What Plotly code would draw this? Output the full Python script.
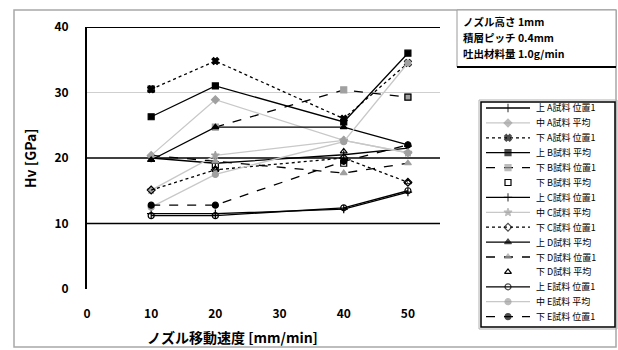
import plotly.graph_objects as go

# ノズル移動速度 [mm/min]
speed = [10, 20, 40, 50]
x_ticks = [0, 10, 20, 30, 40, 50]
y_ticks = [0, 10, 20, 30, 40]

series_names = [
    "上 A試料 位置1", "中 A試料 平均", "下 A試料 位置1",
    "上 B試料 平均", "下 B試料 位置1", "下 B試料 平均",
    "上 C試料 位置1", "中 C試料 平均", "下 C試料 位置1",
    "上 D試料 平均", "下 D試料 位置1", "下 D試料 平均",
    "上 E試料 位置1", "中 E試料 平均", "下 E試料 位置1",
]

hv_values = [
    [20.0, 19.2, 20.5, 21.5],
    [20.4, 28.9, 22.7, 20.8],
    [30.5, 34.8, 26.0, 34.5],
    [26.3, 31.0, 25.5, 36.0],
    [None, 24.7, 30.4, 29.3],
    [30.5, 19.0, 19.2, 29.3],
    [11.5, 11.5, 12.2, 14.8],
    [15.1, 20.4, 22.7, 20.8],
    [15.1, 18.2, 20.0, 16.3],
    [19.7, 24.7, 24.7, 22.0],
    [20.4, 19.5, 17.7, 19.2],
    [19.7, 18.2, 21.0, 16.3],
    [11.2, 11.2, 12.4, 15.0],
    [12.5, 17.5, 22.5, 34.5],
    [12.8, 12.8, 19.5, 22.0],
]

# line dash, line colour, marker symbol, marker colour, line drawn
styles = [
    ("solid", "#000000", "line-ns-open", "#000000", True),
    ("solid", "#c8c8c8", "diamond", "#a0a0a0", True),
    ("dot", "#000000", "x", "#000000", True),
    ("solid", "#000000", "square", "#000000", True),
    ("dash", "#000000", "square", "#a0a0a0", True),
    ("solid", "#000000", "square-open", "#000000", False),
    ("solid", "#000000", "cross-thin-open", "#000000", True),
    ("solid", "#c8c8c8", "star", "#a0a0a0", True),
    ("dot", "#000000", "diamond-open", "#000000", True),
    ("solid", "#000000", "triangle-up", "#000000", True),
    ("dash", "#000000", "triangle-up", "#a0a0a0", True),
    ("solid", "#000000", "triangle-up-open", "#000000", False),
    ("solid", "#000000", "circle-open", "#000000", True),
    ("solid", "#c8c8c8", "circle", "#a0a0a0", True),
    ("dash", "#000000", "circle", "#000000", True),
]

conditions = ["ノズル高さ 1mm", "積層ピッチ 0.4mm", "吐出材料量 1.0g/min"]

FONT = "Noto Sans CJK JP"
W, H = 618, 350
# plot area in pixels
PL, PR, PT, PB = 87, 440, 27, 289
# legend box in pixels
LL, LR, LT, LB = 481, 615, 102, 327
ROW0, ROW_STEP = 108, 14.9


def fx(x):
    return x / W


def fy(y):
    return 1 - y / H


fig = go.Figure()

# data traces
for name, vals, (dash, lcol, sym, mcol, has_line) in zip(series_names, hv_values, styles):
    fig.add_trace(go.Scatter(
        x=speed, y=vals, name=name, showlegend=False,
        mode="lines+markers" if has_line else "markers",
        line=dict(color=lcol, width=1.3, dash=dash),
        marker=dict(symbol=sym, size=6, color=mcol, line=dict(color=mcol, width=1.2)),
        connectgaps=True, xaxis="x", yaxis="y",
    ))

# legend samples drawn on their own small axes
annotations = []
for i, (name, (dash, lcol, sym, mcol, has_line)) in enumerate(zip(series_names, styles)):
    if has_line:
        fig.add_trace(go.Scatter(
            x=[5, 27, 49], y=[i, i, i], mode="lines+markers", showlegend=False,
            line=dict(color=lcol, width=1.3, dash=dash),
            marker=dict(symbol=sym, size=[0, 6, 0], color=mcol, line=dict(color=mcol, width=1.2)),
            xaxis="x2", yaxis="y2", hoverinfo="skip",
        ))
    else:
        fig.add_trace(go.Scatter(
            x=[27], y=[i], mode="markers", showlegend=False,
            marker=dict(symbol=sym, size=6, color=mcol, line=dict(color=mcol, width=1.2)),
            xaxis="x2", yaxis="y2", hoverinfo="skip",
        ))
    annotations.append(dict(
        text=name, xref="paper", yref="paper", x=fx(LL + 53), y=fy(ROW0 + ROW_STEP * i),
        xanchor="left", yanchor="middle", showarrow=False,
        font=dict(family=FONT, size=9, color="#000"),
    ))

# horizontal reference lines across the plot
ref_lines = [(40, "#000000", 2), (30, "#cfcfcf", 1), (20, "#000000", 1.6), (10, "#000000", 1.6)]
shapes = []
for yv, col, w in ref_lines:
    shapes.append(dict(type="line", xref="x", yref="y", x0=0, x1=55, y0=yv, y1=yv,
                       line=dict(color=col, width=w), layer="below"))

# outer frame
shapes.append(dict(type="rect", xref="paper", yref="paper",
                   x0=fx(14), x1=fx(616), y0=fy(347), y1=fy(10),
                   line=dict(color="#a8a8a8", width=1.5), layer="below"))
# condition box
shapes.append(dict(type="rect", xref="paper", yref="paper",
                   x0=fx(457), x1=fx(616), y0=fy(67), y1=fy(10),
                   line=dict(color="#9a9a9a", width=1), fillcolor="white", layer="below"))
shapes.append(dict(type="line", xref="paper", yref="paper",
                   x0=fx(457), x1=fx(616), y0=fy(67), y1=fy(67),
                   line=dict(color="#000000", width=2)))
# legend box
shapes.append(dict(type="rect", xref="paper", yref="paper",
                   x0=fx(LL), x1=fx(LR), y0=fy(LB), y1=fy(LT),
                   line=dict(color="#000000", width=1.5), fillcolor="white", layer="below"))
shapes.append(dict(type="rect", xref="paper", yref="paper",
                   x0=fx(LL - 2), x1=fx(LR + 2), y0=fy(LB + 2), y1=fy(LT - 2),
                   line=dict(color="#b0b0b0", width=1), layer="below"))

for i, txt in enumerate(conditions):
    annotations.append(dict(text=txt, xref="paper", yref="paper",
                            x=fx(461), y=fy(22 + i * 16), xanchor="left", yanchor="middle",
                            showarrow=False, font=dict(family=FONT, size=10.5, color="#000", weight="bold")))

# axis titles
annotations.append(dict(text="ノズル移動速度 [mm/min]", xref="paper", yref="paper",
                        x=fx(232), y=fy(337), xanchor="center", yanchor="middle", showarrow=False,
                        font=dict(family=FONT, size=14, color="#000", weight="bold")))
annotations.append(dict(text="Hv [GPa]", xref="paper", yref="paper",
                        x=fx(30), y=fy(158), xanchor="center", yanchor="middle", showarrow=False,
                        textangle=-90, font=dict(family=FONT, size=14, color="#000", weight="bold")))

fig.update_layout(
    width=W, height=H,
    margin=dict(l=0, r=0, t=0, b=0),
    paper_bgcolor="white", plot_bgcolor="rgba(0,0,0,0)",
    font=dict(family=FONT, color="#000"),
    shapes=shapes, annotations=annotations,
    xaxis=dict(domain=[fx(PL), fx(PR)], range=[0, 55], tickvals=x_ticks, showgrid=False,
               zeroline=False, showline=False, ticks="", automargin=False,
               ticklabelstandoff=16,
               tickfont=dict(family=FONT, size=12, color="#000", weight="bold")),
    yaxis=dict(domain=[fy(PB), fy(PT)], range=[0, 40], tickvals=y_ticks, showgrid=False,
               zeroline=False, showline=True, linecolor="#000", linewidth=2, ticks="",
               automargin=False, ticklabelstandoff=14,
               tickfont=dict(family=FONT, size=12, color="#000", weight="bold")),
    xaxis2=dict(domain=[fx(LL), fx(LR)], range=[0, LR - LL], visible=False, fixedrange=True),
    yaxis2=dict(domain=[fy(LB), fy(LT)],
                range=[(LB - ROW0) / ROW_STEP, (LT - ROW0) / ROW_STEP],
                visible=False, fixedrange=True),
)

fig.write_html("out.html")
